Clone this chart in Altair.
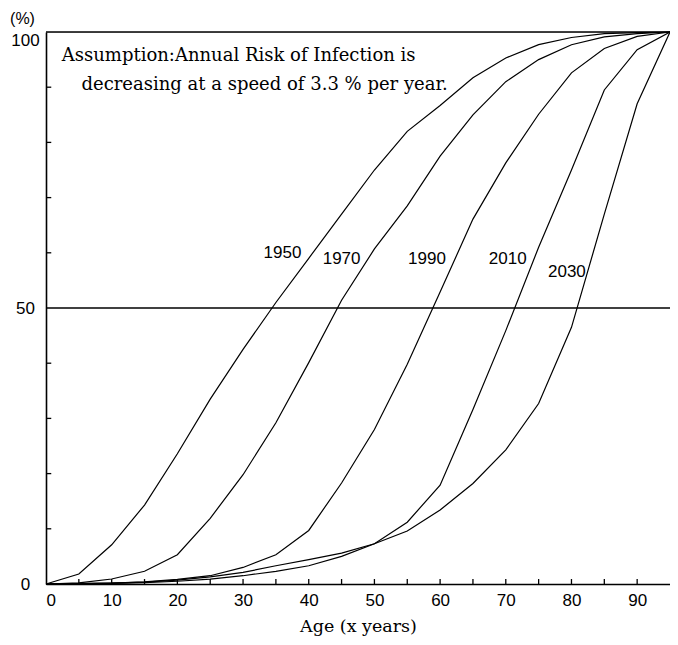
import altair as alt
import pandas as pd

ages = [0, 5, 10, 15, 20, 25, 30, 35, 40, 45, 50, 55, 60, 65, 70, 75, 80, 85, 90, 95]
y1950 = [0, 1.8, 7.1, 14.3, 23.6, 33.5, 42.5, 51.0, 59.0, 67.0, 75.0, 82.0, 86.7, 91.7, 95.3, 97.7, 99.0, 99.7, 99.9, 100]
y1970 = [0, 0.2, 0.9, 2.3, 5.3, 11.9, 19.8, 29.2, 40.1, 51.4, 60.7, 68.5, 77.5, 85.0, 91.0, 95.0, 97.7, 99.1, 99.7, 100]
y1990 = [0, 0.05, 0.15, 0.4, 0.85, 1.5, 3.0, 5.3, 9.7, 18.3, 28.0, 39.8, 52.9, 66.1, 76.3, 85.1, 92.6, 97.0, 99.2, 100]
y2010 = [0, 0.05, 0.1, 0.25, 0.5, 0.9, 1.5, 2.3, 3.3, 5.0, 7.3, 11.2, 17.9, 31.6, 45.9, 61.0, 75.0, 89.5, 96.8, 100]
y2030 = [0, 0.05, 0.15, 0.35, 0.7, 1.3, 2.1, 3.3, 4.4, 5.6, 7.3, 9.6, 13.4, 18.2, 24.3, 32.7, 46.5, 67.0, 87.0, 100]

cohorts = ["1950", "1970", "1990", "2010", "2030"]
series = [y1950, y1970, y1990, y2010, y2030]

# label anchors (data coordinates)
label_age = [36.0, 45.0, 58.0, 70.3, 79.3]
label_pct = [60.0, 58.9, 58.9, 58.9, 56.5]

note_lines = ["Assumption:Annual Risk of Infection is",
              "decreasing at a speed of 3.3 % per year."]
note_age = [2.4, 5.4]
note_pct = [94.7, 89.5]

ref_lines = [50, 100]
x_minor = [5, 10, 15, 20, 25, 30, 35, 40, 45, 50, 55, 60, 65, 70, 75, 80, 85, 90]
y_minor = [10, 20, 30, 40, 60, 70, 80, 90]
x_labels = [0, 10, 20, 30, 40, 50, 60, 70, 80, 90]
y_labels = [0, 50, 100]

rows = []
for c, s in zip(cohorts, series):
    for a, v in zip(ages, s):
        rows.append({"age": a, "pct": v, "cohort": c})
df = pd.DataFrame(rows)

SERIF = "DejaVu Serif"
SANS = "Liberation Sans Narrow, Liberation Sans, Arial, sans-serif"

xscale = alt.Scale(domain=[0, 95], nice=False, zero=True)
yscale = alt.Scale(domain=[0, 100], nice=False)

xaxis = alt.Axis(values=x_labels, ticks=False, grid=False, domainColor="black",
                 domainWidth=1.6, labelFont=SANS, labelFontSize=17, labelColor="black",
                 labelPadding=8, title="Age (x years)", titleFont=SERIF,
                 titleFontSize=17.5, titleFontWeight="normal", titleColor="black",
                 titlePadding=9)
yaxis = alt.Axis(values=y_labels, ticks=False, grid=False, domainColor="black",
                 domainWidth=1.6, labelFont=SANS, labelFontSize=17, labelColor="black",
                 labelAlign="center", labelPadding=21,
                 labelBaseline={"condition": {"test": "datum.value == 100", "value": "top"},
                                "value": "middle"},
                 title="(%)", titleAngle=0, titleX=-24, titleY=-14,
                 titleAlign="center", titleBaseline="middle",
                 titleFont=SANS, titleFontSize=16, titleFontWeight="normal",
                 titleColor="black")

lines = alt.Chart(df).mark_line(color="black", strokeWidth=1.2).encode(
    x=alt.X("age:Q", scale=xscale, axis=xaxis),
    y=alt.Y("pct:Q", scale=yscale, axis=yaxis),
    detail="cohort:N",
)

refs = alt.Chart(pd.DataFrame({"v": ref_lines})).mark_rule(color="black", strokeWidth=1.5).encode(
    y=alt.Y("v:Q", scale=yscale)
)

xt = alt.Chart(pd.DataFrame({"a": x_minor})).mark_rule(color="black", strokeWidth=1.3).encode(
    x=alt.X("a:Q", scale=xscale), y=alt.datum(0), y2=alt.datum(0.9)
)
yt = alt.Chart(pd.DataFrame({"p": y_minor})).mark_rule(color="black", strokeWidth=1.3).encode(
    y=alt.Y("p:Q", scale=yscale), x=alt.datum(0), x2=alt.datum(0.8)
)

labels = alt.Chart(pd.DataFrame({"age": label_age, "pct": label_pct, "t": cohorts})).mark_text(
    font=SANS, fontSize=17, color="black", align="center", baseline="middle"
).encode(x=alt.X("age:Q", scale=xscale), y=alt.Y("pct:Q", scale=yscale), text="t:N")

notes = alt.Chart(pd.DataFrame({"age": note_age, "pct": note_pct, "t": note_lines})).mark_text(
    font=SERIF, fontSize=18, color="black", align="left", baseline="alphabetic"
).encode(x=alt.X("age:Q", scale=xscale), y=alt.Y("pct:Q", scale=yscale), text="t:N")

chart = alt.layer(refs, xt, yt, lines, labels, notes).properties(
    width=624, height=552,
    autosize="none",
    padding={"left": 38, "top": 24, "right": 0, "bottom": 53},
).configure_view(stroke=None).configure(background="white")

chart.save("out.html", embed_options={"renderer": "svg", "actions": False})
